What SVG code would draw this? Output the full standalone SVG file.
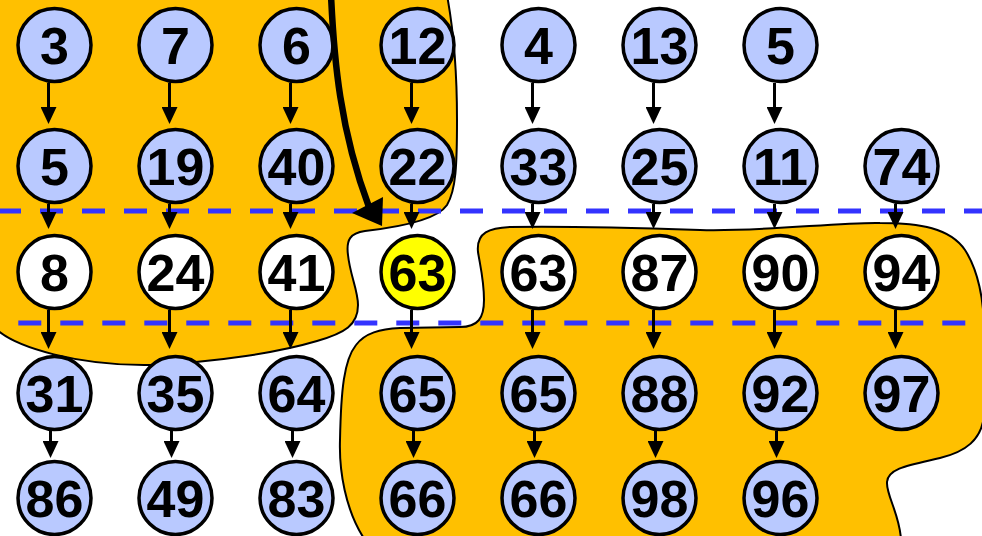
<svg xmlns="http://www.w3.org/2000/svg" width="982" height="536" viewBox="0 0 982 536">
  <defs>
    <style>
      .blob { fill: #FFC000; stroke: #000; stroke-width: 2; }
      .cut { fill: none; stroke: #3333FF; stroke-width: 5; stroke-dasharray: 23 19; }
      .link { stroke: #000; stroke-width: 3; fill: none; marker-end: url(#head); }
      .node circle { stroke: #000; stroke-width: 3.5; }
      .blue circle { fill: #B9C9FF; }
      .white circle { fill: #FFFFFF; }
      .yellow circle { fill: #FFFF00; }
      .node text { font-family: "Liberation Sans", Arial, sans-serif; font-weight: bold; font-size: 52px; fill: #000; text-anchor: middle; }
      .jump { stroke: #000; stroke-width: 6.5; fill: none; }
    </style>
    <marker id="head" viewBox="0 0 17 16" markerWidth="17" markerHeight="16" refX="1" refY="8" orient="auto" markerUnits="userSpaceOnUse">
      <path d="M0,0 L17,8 L0,16 Z" fill="#000"/>
    </marker>
  </defs>

  <!-- shaded regions -->
  <g id="regions">
    <path class="blob" d="M-10,-10 L446,-10 C452,20 457,60 457,120 C457,165 456,190 447,205 C437,220 400,227 365,231 C350,233 346,240 348,255 C350,275 358,290 358,305 C358,325 345,333 317,341 C280,352 220,362 150,365 C80,366 15,348 -5,328 Z"/>
    <path class="blob" d="M478,252 C476,232 490,228 510,227 C560,226 640,228 700,230 C760,232 840,222 880,223 C920,223 950,228 965,250 C978,270 984,300 984,330 L984,415 C982,440 965,452 940,458 C910,465 888,468 887,482 C886,495 900,515 901,540 L365,540 C345,510 339,470 340,440 C341,390 344,360 356,345 C365,333 380,329 400,328 L460,327 C478,327 484,318 484,300 C484,280 480,265 478,252 Z"/>
  </g>

  <!-- dashed cut lines -->
  <g id="cuts">
    <line class="cut" x1="-2" y1="211" x2="984" y2="211"/>
    <line class="cut" x1="18.3" y1="323" x2="965.3" y2="323"/>
  </g>

  <!-- connectors -->
  <g id="connectors">
    <path class="link" d="M48.5,83 V108"/>
    <path class="link" d="M169.5,83 V108"/>
    <path class="link" d="M290.5,83 V108"/>
    <path class="link" d="M411.5,83 V108"/>
    <path class="link" d="M532.5,83 V108"/>
    <path class="link" d="M653.5,83 V108"/>
    <path class="link" d="M774.5,83 V108"/>
    <path class="link" d="M48.5,204 V213"/>
    <path class="link" d="M169.5,204 V213"/>
    <path class="link" d="M290.5,204 V213"/>
    <path class="link" d="M411.5,204 V213"/>
    <path class="link" d="M532.5,204 V213"/>
    <path class="link" d="M653.5,204 V213"/>
    <path class="link" d="M774.5,204 V213"/>
    <path class="link" d="M895.5,204 V213"/>
    <path class="link" d="M48.5,310 V333"/>
    <path class="link" d="M169.5,310 V333"/>
    <path class="link" d="M290.5,310 V333"/>
    <path class="link" d="M411.5,310 V333"/>
    <path class="link" d="M532.5,310 V333"/>
    <path class="link" d="M653.5,310 V333"/>
    <path class="link" d="M774.5,310 V333"/>
    <path class="link" d="M895.5,310 V333"/>
    <path class="link" d="M50.5,431 V442"/>
    <path class="link" d="M171.5,431 V442"/>
    <path class="link" d="M292.5,431 V442"/>
    <path class="link" d="M413.5,431 V442"/>
    <path class="link" d="M534.5,431 V442"/>
    <path class="link" d="M655.5,431 V442"/>
    <path class="link" d="M776.5,431 V442"/>
  </g>

  <!-- top row -->
  <g id="n-0-0" class="node blue"><circle cx="54.5" cy="45" r="36.5"/><text x="54.5" y="64">3</text></g>
  <g id="n-0-1" class="node blue"><circle cx="175.5" cy="45" r="36.5"/><text x="175.5" y="64">7</text></g>
  <g id="n-0-2" class="node blue"><circle cx="296.5" cy="45" r="36.5"/><text x="296.5" y="64">6</text></g>
  <g id="n-0-3" class="node blue"><circle cx="417.5" cy="45" r="36.5"/><text x="417.5" y="64">12</text></g>
  <g id="n-0-4" class="node blue"><circle cx="538.5" cy="45" r="36.5"/><text x="538.5" y="64">4</text></g>
  <g id="n-0-5" class="node blue"><circle cx="659.5" cy="45" r="36.5"/><text x="659.5" y="64">13</text></g>
  <g id="n-0-6" class="node blue"><circle cx="780.5" cy="45" r="36.5"/><text x="780.5" y="64">5</text></g>

  <!-- second row -->
  <g id="n-1-0" class="node blue"><circle cx="54.5" cy="166" r="36.5"/><text x="54.5" y="185">5</text></g>
  <g id="n-1-1" class="node blue"><circle cx="175.5" cy="166" r="36.5"/><text x="175.5" y="185">19</text></g>
  <g id="n-1-2" class="node blue"><circle cx="296.5" cy="166" r="36.5"/><text x="296.5" y="185">40</text></g>
  <g id="n-1-3" class="node blue"><circle cx="417.5" cy="166" r="36.5"/><text x="417.5" y="185">22</text></g>
  <g id="n-1-4" class="node blue"><circle cx="538.5" cy="166" r="36.5"/><text x="538.5" y="185">33</text></g>
  <g id="n-1-5" class="node blue"><circle cx="659.5" cy="166" r="36.5"/><text x="659.5" y="185">25</text></g>
  <g id="n-1-6" class="node blue"><circle cx="780.5" cy="166" r="36.5"/><text x="780.5" y="185">11</text></g>
  <g id="n-1-7" class="node blue"><circle cx="901.5" cy="166" r="36.5"/><text x="901.5" y="185">74</text></g>

  <!-- middle row -->
  <g id="n-2-0" class="node white"><circle cx="54.5" cy="272" r="36.5"/><text x="54.5" y="291">8</text></g>
  <g id="n-2-1" class="node white"><circle cx="175.5" cy="272" r="36.5"/><text x="175.5" y="291">24</text></g>
  <g id="n-2-2" class="node white"><circle cx="296.5" cy="272" r="36.5"/><text x="296.5" y="291">41</text></g>
  <g id="n-2-3" class="node yellow"><circle cx="417.5" cy="272" r="36.5"/><text x="417.5" y="291">63</text></g>
  <g id="n-2-4" class="node white"><circle cx="538.5" cy="272" r="36.5"/><text x="538.5" y="291">63</text></g>
  <g id="n-2-5" class="node white"><circle cx="659.5" cy="272" r="36.5"/><text x="659.5" y="291">87</text></g>
  <g id="n-2-6" class="node white"><circle cx="780.5" cy="272" r="36.5"/><text x="780.5" y="291">90</text></g>
  <g id="n-2-7" class="node white"><circle cx="901.5" cy="272" r="36.5"/><text x="901.5" y="291">94</text></g>

  <!-- fourth row -->
  <g id="n-3-0" class="node blue"><circle cx="54.5" cy="393" r="36.5"/><text x="54.5" y="412">31</text></g>
  <g id="n-3-1" class="node blue"><circle cx="175.5" cy="393" r="36.5"/><text x="175.5" y="412">35</text></g>
  <g id="n-3-2" class="node blue"><circle cx="296.5" cy="393" r="36.5"/><text x="296.5" y="412">64</text></g>
  <g id="n-3-3" class="node blue"><circle cx="417.5" cy="393" r="36.5"/><text x="417.5" y="412">65</text></g>
  <g id="n-3-4" class="node blue"><circle cx="538.5" cy="393" r="36.5"/><text x="538.5" y="412">65</text></g>
  <g id="n-3-5" class="node blue"><circle cx="659.5" cy="393" r="36.5"/><text x="659.5" y="412">88</text></g>
  <g id="n-3-6" class="node blue"><circle cx="780.5" cy="393" r="36.5"/><text x="780.5" y="412">92</text></g>
  <g id="n-3-7" class="node blue"><circle cx="901.5" cy="393" r="36.5"/><text x="901.5" y="412">97</text></g>

  <!-- bottom row -->
  <g id="n-4-0" class="node blue"><circle cx="54.5" cy="498" r="36.5"/><text x="54.5" y="517">86</text></g>
  <g id="n-4-1" class="node blue"><circle cx="175.5" cy="498" r="36.5"/><text x="175.5" y="517">49</text></g>
  <g id="n-4-2" class="node blue"><circle cx="296.5" cy="498" r="36.5"/><text x="296.5" y="517">83</text></g>
  <g id="n-4-3" class="node blue"><circle cx="417.5" cy="498" r="36.5"/><text x="417.5" y="517">66</text></g>
  <g id="n-4-4" class="node blue"><circle cx="538.5" cy="498" r="36.5"/><text x="538.5" y="517">66</text></g>
  <g id="n-4-5" class="node blue"><circle cx="659.5" cy="498" r="36.5"/><text x="659.5" y="517">98</text></g>
  <g id="n-4-6" class="node blue"><circle cx="780.5" cy="498" r="36.5"/><text x="780.5" y="517">96</text></g>

  <!-- thick curved arrow -->
  <g id="jump">
    <path class="jump" d="M331,-5 C334,60 340,130 369,207"/>
    <polygon points="352,213 383,197 382,226" fill="#000"/>
  </g>
</svg>
